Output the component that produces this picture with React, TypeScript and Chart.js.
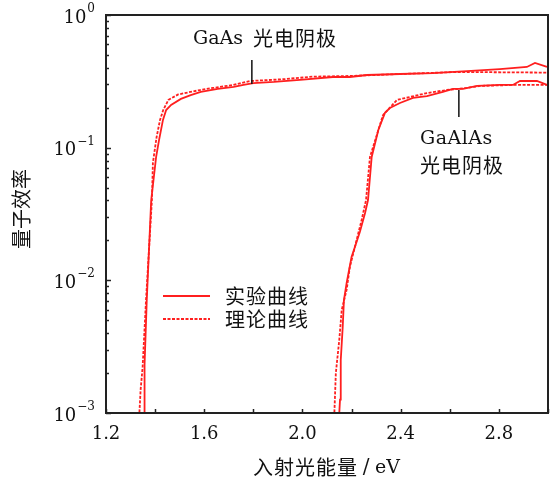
import React, { useEffect, useRef } from "react";
import { Chart, registerables } from "chart.js";

Chart.register(...registerables);

// ---- data ----
const gaasExpX = [1.353, 1.355, 1.357, 1.366, 1.384, 1.404, 1.416, 1.432, 1.445, 1.465, 1.505, 1.545, 1.586, 1.655, 1.72, 1.76, 1.8, 1.884, 1.99, 2.124, 2.193, 2.263, 2.397, 2.531, 2.67, 2.804, 2.914, 2.947, 2.996];
const gaasExpY = [0.0008, 0.001, 0.0023, 0.0071, 0.04, 0.085, 0.114, 0.162, 0.192, 0.21, 0.233, 0.249, 0.263, 0.277, 0.287, 0.297, 0.307, 0.313, 0.324, 0.341, 0.341, 0.353, 0.359, 0.365, 0.378, 0.391, 0.406, 0.435, 0.406];

const gaasThX = [1.334, 1.336, 1.341, 1.349, 1.363, 1.387, 1.391, 1.406, 1.42, 1.433, 1.454, 1.494, 1.583, 1.636, 1.717, 1.786, 1.921, 2.043, 2.193, 2.397, 2.629, 2.996];
const gaasThY = [0.0008, 0.001, 0.0015, 0.0022, 0.0071, 0.0403, 0.077, 0.12, 0.162, 0.192, 0.229, 0.252, 0.272, 0.282, 0.297, 0.318, 0.328, 0.343, 0.347, 0.359, 0.372, 0.368];

const gaalasExpX = [2.149, 2.15, 2.153, 2.156, 2.164, 2.169, 2.18, 2.2, 2.214, 2.234, 2.255, 2.267, 2.282, 2.309, 2.336, 2.356, 2.397, 2.45, 2.507, 2.572, 2.613, 2.654, 2.711, 2.804, 2.857, 2.886, 2.955, 2.996];
const gaalasExpY = [0.0008, 0.001, 0.00126, 0.00251, 0.00446, 0.0071, 0.00955, 0.015, 0.0179, 0.0232, 0.0322, 0.0403, 0.0851, 0.136, 0.183, 0.199, 0.217, 0.237, 0.245, 0.263, 0.277, 0.277, 0.292, 0.297, 0.297, 0.318, 0.318, 0.297];

const gaalasThX = [2.128, 2.13, 2.136, 2.15, 2.16, 2.18, 2.193, 2.241, 2.259, 2.275, 2.328, 2.385, 2.438, 2.507, 2.588, 2.67, 2.723, 2.857, 2.996];
const gaalasThY = [0.0008, 0.001, 0.002, 0.00356, 0.00598, 0.0085, 0.0126, 0.0285, 0.0403, 0.0851, 0.176, 0.229, 0.241, 0.258, 0.272, 0.282, 0.292, 0.297, 0.297];

const xTickValues = [1.2, 1.4, 1.6, 1.8, 2.0, 2.2, 2.4, 2.6, 2.8, 3.0];
const xTickLabels = ["1.2", "1.6", "2.0", "2.4", "2.8"];
const yDecades = [0.001, 0.01, 0.1, 1];
const yExponents = ["−3", "−2", "−1", "0"];

const legendLabels = ["实验曲线", "理论曲线"];
const xTitleCJK = "入射光能量";
const xTitleUnit = "eV";
const yTitle = "量子效率";

const RED = "#ff1f1f";
const SERIF = '"DejaVu Serif", "Liberation Serif", serif';
const CJK = '"Noto Sans CJK SC", sans-serif';

const pts = (xs: number[], ys: number[]) => xs.map((x, i) => ({ x, y: ys[i] }));

const decorPlugin = {
  id: "decor",
  afterDraw(chart: any) {
    const { ctx, chartArea: a, scales } = chart;
    const xs = scales.x;
    const ys = scales.y;
    ctx.save();
    // frame
    ctx.strokeStyle = "#222";
    ctx.lineWidth = 2;
    ctx.strokeRect(a.left, a.top, a.right - a.left, a.bottom - a.top);
    // x ticks
    ctx.lineWidth = 1.5;
    xTickValues.forEach((v) => {
      const px = Math.round(xs.getPixelForValue(v)) + 0.5;
      ctx.beginPath();
      ctx.moveTo(px, a.bottom);
      ctx.lineTo(px, a.bottom - 4);
      ctx.stroke();
    });
    // y ticks
    yDecades.forEach((d, i) => {
      const py = Math.round(ys.getPixelForValue(d)) + 0.5;
      ctx.beginPath();
      ctx.moveTo(a.left, py);
      ctx.lineTo(a.left + 5, py);
      ctx.stroke();
      if (i < yDecades.length - 1) {
        for (let m = 2; m <= 9; m++) {
          const pm = Math.round(ys.getPixelForValue(m * d)) + 0.5;
          ctx.beginPath();
          ctx.moveTo(a.left, pm);
          ctx.lineTo(a.left + 3, pm);
          ctx.stroke();
        }
      }
    });
    // x tick labels
    ctx.fillStyle = "#111";
    ctx.font = `18px ${SERIF}`;
    ctx.textAlign = "center";
    ctx.textBaseline = "middle";
    xTickLabels.forEach((t) => {
      const px = xs.getPixelForValue(parseFloat(t));
      ctx.fillText(t, px, a.bottom + 21);
    });
    // y tick labels
    yDecades.forEach((d, i) => {
      const py = ys.getPixelForValue(d);
      ctx.font = `12px ${SERIF}`;
      ctx.textAlign = "right";
      const exp = yExponents[i];
      const ew = ctx.measureText(exp).width;
      const rx = a.left - 11;
      ctx.fillText(exp, rx, py - 6);
      ctx.font = `18px ${SERIF}`;
      ctx.fillText("10", rx - ew - 1, py + 3);
    });
    // x title
    ctx.textAlign = "left";
    ctx.font = `20px ${CJK}`;
    (ctx as any).letterSpacing = "1px";
    ctx.fillText(xTitleCJK, 253, a.bottom + 54);
    (ctx as any).letterSpacing = "0px";
    ctx.font = `20px ${SERIF}`;
    ctx.textAlign = "center";
    ctx.fillText("/", 366, a.bottom + 55);
    ctx.textAlign = "left";
    ctx.font = `19px ${SERIF}`;
    ctx.fillText(xTitleUnit, 375, a.bottom + 55);
    // y title
    ctx.save();
    ctx.translate(21, 209);
    ctx.rotate(-Math.PI / 2);
    ctx.textAlign = "center";
    ctx.font = `20px ${CJK}`;
    ctx.fillText(yTitle, 0, 0);
    ctx.restore();
    // annotations
    ctx.textAlign = "left";
    ctx.font = `19px ${SERIF}`;
    ctx.fillText("GaAs", 193, 39);
    (ctx as any).letterSpacing = "0.5px";
    ctx.fillText("GaAlAs", 420, 139);
    (ctx as any).letterSpacing = "1px";
    ctx.font = `20px ${CJK}`;
    ctx.fillText("光电阴极", 253, 38);
    ctx.fillText("光电阴极", 420, 165);
    (ctx as any).letterSpacing = "0px";
    ctx.strokeStyle = "#111";
    ctx.lineWidth = 1.5;
    ctx.beginPath();
    const p1 = xs.getPixelForValue(1.794);
    ctx.moveTo(p1, 60);
    ctx.lineTo(p1, 84);
    const p2 = xs.getPixelForValue(2.637);
    ctx.moveTo(p2, 90);
    ctx.lineTo(p2, 117);
    ctx.stroke();
    // legend
    ctx.strokeStyle = RED;
    ctx.lineWidth = 1.8;
    ctx.beginPath();
    ctx.moveTo(163, 296);
    ctx.lineTo(210, 296);
    ctx.stroke();
    ctx.setLineDash([3, 1.5]);
    ctx.beginPath();
    ctx.moveTo(163, 319);
    ctx.lineTo(210, 319);
    ctx.stroke();
    ctx.setLineDash([]);
    ctx.fillStyle = "#111";
    ctx.font = `20px ${CJK}`;
    (ctx as any).letterSpacing = "1px";
    ctx.fillText(legendLabels[0], 225, 296);
    ctx.fillText(legendLabels[1], 225, 319);
    (ctx as any).letterSpacing = "0px";
    ctx.restore();
  },
};

export default function App() {
  const ref = useRef<HTMLCanvasElement | null>(null);
  useEffect(() => {
    if (!ref.current) return;
    const solid = { borderColor: RED, borderWidth: 1.8, pointRadius: 0, tension: 0, fill: false, clip: 0 };
    const dotted = { ...solid, borderDash: [3, 1.5] };
    const chart = new Chart(ref.current, {
      type: "line",
      data: {
        datasets: [
          { label: "GaAs 实验", data: pts(gaasExpX, gaasExpY), ...solid },
          { label: "GaAs 理论", data: pts(gaasThX, gaasThY), ...dotted },
          { label: "GaAlAs 实验", data: pts(gaalasExpX, gaalasExpY), ...solid },
          { label: "GaAlAs 理论", data: pts(gaalasThX, gaalasThY), ...dotted },
        ] as any,
      },
      options: {
        animation: false,
        responsive: false,
        maintainAspectRatio: false,
        layout: { padding: { left: 106, top: 15, right: 9, bottom: 64 } },
        plugins: { legend: { display: false }, tooltip: { enabled: false } },
        scales: {
          x: { type: "linear", min: 1.2, max: 3.0, display: false },
          y: { type: "logarithmic", min: 0.001, max: 1, display: false },
        },
      } as any,
      plugins: [decorPlugin],
    });
    const fonts: any = (document as any).fonts;
    if (fonts && fonts.load) {
      Promise.all([
        fonts.load('18px "DejaVu Serif"'),
        fonts.load('20px "Noto Sans CJK SC"', "量子效率"),
      ]).then(() => {
        try { chart.update(); } catch (e) {}
      }).catch(() => {});
    }
    return () => chart.destroy();
  }, []);
  return (
    <div style={{ position: "fixed", left: 0, top: 0, width: 557, height: 477, background: "#fff" }}>
      <canvas ref={ref} width={557} height={477} style={{ width: 557, height: 477 }} />
    </div>
  );
}
